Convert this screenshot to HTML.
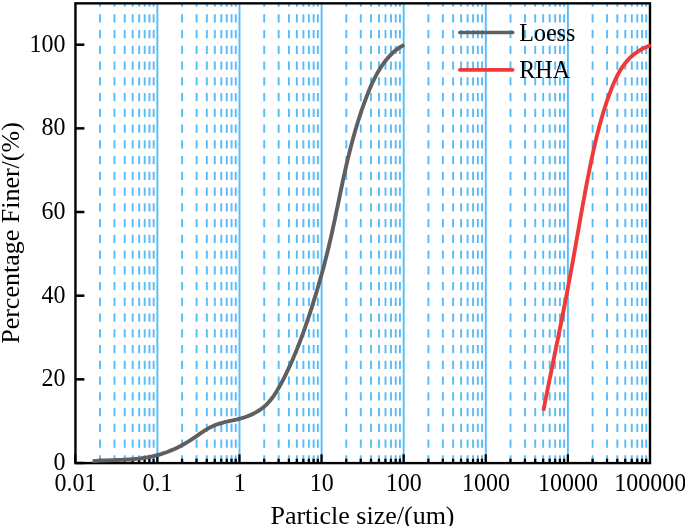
<!DOCTYPE html><html><head><meta charset="utf-8"><style>html,body{margin:0;padding:0;background:#fff;width:685px;height:526px;overflow:hidden}svg{display:block;will-change:transform}text{font-family:"Liberation Serif",serif;font-size:24px;fill:#000}</style></head><body>
<svg width="685" height="526" viewBox="0 0 685 526">
<line x1="100.01" y1="463.10" x2="100.01" y2="3.35" stroke="#58bcfa" stroke-width="1.9" stroke-dasharray="8.3 7.45" stroke-dashoffset="0.5"/>
<line x1="114.47" y1="463.10" x2="114.47" y2="3.35" stroke="#58bcfa" stroke-width="1.9" stroke-dasharray="8.3 7.45" stroke-dashoffset="0.5"/>
<line x1="124.73" y1="463.10" x2="124.73" y2="3.35" stroke="#58bcfa" stroke-width="1.9" stroke-dasharray="8.3 7.45" stroke-dashoffset="0.5"/>
<line x1="132.69" y1="463.10" x2="132.69" y2="3.35" stroke="#58bcfa" stroke-width="1.9" stroke-dasharray="8.3 7.45" stroke-dashoffset="0.5"/>
<line x1="139.19" y1="463.10" x2="139.19" y2="3.35" stroke="#58bcfa" stroke-width="1.9" stroke-dasharray="8.3 7.45" stroke-dashoffset="0.5"/>
<line x1="144.68" y1="463.10" x2="144.68" y2="3.35" stroke="#58bcfa" stroke-width="1.9" stroke-dasharray="8.3 7.45" stroke-dashoffset="0.5"/>
<line x1="149.44" y1="463.10" x2="149.44" y2="3.35" stroke="#58bcfa" stroke-width="1.9" stroke-dasharray="8.3 7.45" stroke-dashoffset="0.5"/>
<line x1="153.64" y1="463.10" x2="153.64" y2="3.35" stroke="#58bcfa" stroke-width="1.9" stroke-dasharray="8.3 7.45" stroke-dashoffset="0.5"/>
<line x1="157.40" y1="463.10" x2="157.40" y2="3.35" stroke="#58bcfa" stroke-width="1.9"/>
<line x1="182.11" y1="463.10" x2="182.11" y2="3.35" stroke="#58bcfa" stroke-width="1.9" stroke-dasharray="8.3 7.45" stroke-dashoffset="0.5"/>
<line x1="196.57" y1="463.10" x2="196.57" y2="3.35" stroke="#58bcfa" stroke-width="1.9" stroke-dasharray="8.3 7.45" stroke-dashoffset="0.5"/>
<line x1="206.83" y1="463.10" x2="206.83" y2="3.35" stroke="#58bcfa" stroke-width="1.9" stroke-dasharray="8.3 7.45" stroke-dashoffset="0.5"/>
<line x1="214.79" y1="463.10" x2="214.79" y2="3.35" stroke="#58bcfa" stroke-width="1.9" stroke-dasharray="8.3 7.45" stroke-dashoffset="0.5"/>
<line x1="221.29" y1="463.10" x2="221.29" y2="3.35" stroke="#58bcfa" stroke-width="1.9" stroke-dasharray="8.3 7.45" stroke-dashoffset="0.5"/>
<line x1="226.78" y1="463.10" x2="226.78" y2="3.35" stroke="#58bcfa" stroke-width="1.9" stroke-dasharray="8.3 7.45" stroke-dashoffset="0.5"/>
<line x1="231.54" y1="463.10" x2="231.54" y2="3.35" stroke="#58bcfa" stroke-width="1.9" stroke-dasharray="8.3 7.45" stroke-dashoffset="0.5"/>
<line x1="235.74" y1="463.10" x2="235.74" y2="3.35" stroke="#58bcfa" stroke-width="1.9" stroke-dasharray="8.3 7.45" stroke-dashoffset="0.5"/>
<line x1="239.50" y1="463.10" x2="239.50" y2="3.35" stroke="#58bcfa" stroke-width="1.9"/>
<line x1="264.21" y1="463.10" x2="264.21" y2="3.35" stroke="#58bcfa" stroke-width="1.9" stroke-dasharray="8.3 7.45" stroke-dashoffset="0.5"/>
<line x1="278.67" y1="463.10" x2="278.67" y2="3.35" stroke="#58bcfa" stroke-width="1.9" stroke-dasharray="8.3 7.45" stroke-dashoffset="0.5"/>
<line x1="288.93" y1="463.10" x2="288.93" y2="3.35" stroke="#58bcfa" stroke-width="1.9" stroke-dasharray="8.3 7.45" stroke-dashoffset="0.5"/>
<line x1="296.89" y1="463.10" x2="296.89" y2="3.35" stroke="#58bcfa" stroke-width="1.9" stroke-dasharray="8.3 7.45" stroke-dashoffset="0.5"/>
<line x1="303.39" y1="463.10" x2="303.39" y2="3.35" stroke="#58bcfa" stroke-width="1.9" stroke-dasharray="8.3 7.45" stroke-dashoffset="0.5"/>
<line x1="308.88" y1="463.10" x2="308.88" y2="3.35" stroke="#58bcfa" stroke-width="1.9" stroke-dasharray="8.3 7.45" stroke-dashoffset="0.5"/>
<line x1="313.64" y1="463.10" x2="313.64" y2="3.35" stroke="#58bcfa" stroke-width="1.9" stroke-dasharray="8.3 7.45" stroke-dashoffset="0.5"/>
<line x1="317.84" y1="463.10" x2="317.84" y2="3.35" stroke="#58bcfa" stroke-width="1.9" stroke-dasharray="8.3 7.45" stroke-dashoffset="0.5"/>
<line x1="321.60" y1="463.10" x2="321.60" y2="3.35" stroke="#58bcfa" stroke-width="1.9"/>
<line x1="346.31" y1="463.10" x2="346.31" y2="3.35" stroke="#58bcfa" stroke-width="1.9" stroke-dasharray="8.3 7.45" stroke-dashoffset="0.5"/>
<line x1="360.77" y1="463.10" x2="360.77" y2="3.35" stroke="#58bcfa" stroke-width="1.9" stroke-dasharray="8.3 7.45" stroke-dashoffset="0.5"/>
<line x1="371.03" y1="463.10" x2="371.03" y2="3.35" stroke="#58bcfa" stroke-width="1.9" stroke-dasharray="8.3 7.45" stroke-dashoffset="0.5"/>
<line x1="378.99" y1="463.10" x2="378.99" y2="3.35" stroke="#58bcfa" stroke-width="1.9" stroke-dasharray="8.3 7.45" stroke-dashoffset="0.5"/>
<line x1="385.49" y1="463.10" x2="385.49" y2="3.35" stroke="#58bcfa" stroke-width="1.9" stroke-dasharray="8.3 7.45" stroke-dashoffset="0.5"/>
<line x1="390.98" y1="463.10" x2="390.98" y2="3.35" stroke="#58bcfa" stroke-width="1.9" stroke-dasharray="8.3 7.45" stroke-dashoffset="0.5"/>
<line x1="395.74" y1="463.10" x2="395.74" y2="3.35" stroke="#58bcfa" stroke-width="1.9" stroke-dasharray="8.3 7.45" stroke-dashoffset="0.5"/>
<line x1="399.94" y1="463.10" x2="399.94" y2="3.35" stroke="#58bcfa" stroke-width="1.9" stroke-dasharray="8.3 7.45" stroke-dashoffset="0.5"/>
<line x1="403.70" y1="463.10" x2="403.70" y2="3.35" stroke="#58bcfa" stroke-width="1.9"/>
<line x1="428.41" y1="463.10" x2="428.41" y2="3.35" stroke="#58bcfa" stroke-width="1.9" stroke-dasharray="8.3 7.45" stroke-dashoffset="0.5"/>
<line x1="442.87" y1="463.10" x2="442.87" y2="3.35" stroke="#58bcfa" stroke-width="1.9" stroke-dasharray="8.3 7.45" stroke-dashoffset="0.5"/>
<line x1="453.13" y1="463.10" x2="453.13" y2="3.35" stroke="#58bcfa" stroke-width="1.9" stroke-dasharray="8.3 7.45" stroke-dashoffset="0.5"/>
<line x1="461.09" y1="463.10" x2="461.09" y2="3.35" stroke="#58bcfa" stroke-width="1.9" stroke-dasharray="8.3 7.45" stroke-dashoffset="0.5"/>
<line x1="467.59" y1="463.10" x2="467.59" y2="3.35" stroke="#58bcfa" stroke-width="1.9" stroke-dasharray="8.3 7.45" stroke-dashoffset="0.5"/>
<line x1="473.08" y1="463.10" x2="473.08" y2="3.35" stroke="#58bcfa" stroke-width="1.9" stroke-dasharray="8.3 7.45" stroke-dashoffset="0.5"/>
<line x1="477.84" y1="463.10" x2="477.84" y2="3.35" stroke="#58bcfa" stroke-width="1.9" stroke-dasharray="8.3 7.45" stroke-dashoffset="0.5"/>
<line x1="482.04" y1="463.10" x2="482.04" y2="3.35" stroke="#58bcfa" stroke-width="1.9" stroke-dasharray="8.3 7.45" stroke-dashoffset="0.5"/>
<line x1="485.80" y1="463.10" x2="485.80" y2="3.35" stroke="#58bcfa" stroke-width="1.9"/>
<line x1="510.51" y1="463.10" x2="510.51" y2="3.35" stroke="#58bcfa" stroke-width="1.9" stroke-dasharray="8.3 7.45" stroke-dashoffset="0.5"/>
<line x1="524.97" y1="463.10" x2="524.97" y2="3.35" stroke="#58bcfa" stroke-width="1.9" stroke-dasharray="8.3 7.45" stroke-dashoffset="0.5"/>
<line x1="535.23" y1="463.10" x2="535.23" y2="3.35" stroke="#58bcfa" stroke-width="1.9" stroke-dasharray="8.3 7.45" stroke-dashoffset="0.5"/>
<line x1="543.19" y1="463.10" x2="543.19" y2="3.35" stroke="#58bcfa" stroke-width="1.9" stroke-dasharray="8.3 7.45" stroke-dashoffset="0.5"/>
<line x1="549.69" y1="463.10" x2="549.69" y2="3.35" stroke="#58bcfa" stroke-width="1.9" stroke-dasharray="8.3 7.45" stroke-dashoffset="0.5"/>
<line x1="555.18" y1="463.10" x2="555.18" y2="3.35" stroke="#58bcfa" stroke-width="1.9" stroke-dasharray="8.3 7.45" stroke-dashoffset="0.5"/>
<line x1="559.94" y1="463.10" x2="559.94" y2="3.35" stroke="#58bcfa" stroke-width="1.9" stroke-dasharray="8.3 7.45" stroke-dashoffset="0.5"/>
<line x1="564.14" y1="463.10" x2="564.14" y2="3.35" stroke="#58bcfa" stroke-width="1.9" stroke-dasharray="8.3 7.45" stroke-dashoffset="0.5"/>
<line x1="567.90" y1="463.10" x2="567.90" y2="3.35" stroke="#58bcfa" stroke-width="1.9"/>
<line x1="592.61" y1="463.10" x2="592.61" y2="3.35" stroke="#58bcfa" stroke-width="1.9" stroke-dasharray="8.3 7.45" stroke-dashoffset="0.5"/>
<line x1="607.07" y1="463.10" x2="607.07" y2="3.35" stroke="#58bcfa" stroke-width="1.9" stroke-dasharray="8.3 7.45" stroke-dashoffset="0.5"/>
<line x1="617.33" y1="463.10" x2="617.33" y2="3.35" stroke="#58bcfa" stroke-width="1.9" stroke-dasharray="8.3 7.45" stroke-dashoffset="0.5"/>
<line x1="625.29" y1="463.10" x2="625.29" y2="3.35" stroke="#58bcfa" stroke-width="1.9" stroke-dasharray="8.3 7.45" stroke-dashoffset="0.5"/>
<line x1="631.79" y1="463.10" x2="631.79" y2="3.35" stroke="#58bcfa" stroke-width="1.9" stroke-dasharray="8.3 7.45" stroke-dashoffset="0.5"/>
<line x1="637.28" y1="463.10" x2="637.28" y2="3.35" stroke="#58bcfa" stroke-width="1.9" stroke-dasharray="8.3 7.45" stroke-dashoffset="0.5"/>
<line x1="642.04" y1="463.10" x2="642.04" y2="3.35" stroke="#58bcfa" stroke-width="1.9" stroke-dasharray="8.3 7.45" stroke-dashoffset="0.5"/>
<line x1="646.24" y1="463.10" x2="646.24" y2="3.35" stroke="#58bcfa" stroke-width="1.9" stroke-dasharray="8.3 7.45" stroke-dashoffset="0.5"/>
<rect x="75.45" y="3.35" width="574.55" height="459.75" fill="none" stroke="#000" stroke-width="2.4"/>
<line x1="75.25" y1="463.10" x2="75.25" y2="454.30" stroke="#000" stroke-width="2.3"/>
<line x1="99.96" y1="463.10" x2="99.96" y2="458.70" stroke="#000" stroke-width="2.3"/>
<line x1="114.42" y1="463.10" x2="114.42" y2="458.70" stroke="#000" stroke-width="2.3"/>
<line x1="124.68" y1="463.10" x2="124.68" y2="458.70" stroke="#000" stroke-width="2.3"/>
<line x1="132.64" y1="463.10" x2="132.64" y2="458.70" stroke="#000" stroke-width="2.3"/>
<line x1="139.14" y1="463.10" x2="139.14" y2="458.70" stroke="#000" stroke-width="2.3"/>
<line x1="144.63" y1="463.10" x2="144.63" y2="458.70" stroke="#000" stroke-width="2.3"/>
<line x1="149.39" y1="463.10" x2="149.39" y2="458.70" stroke="#000" stroke-width="2.3"/>
<line x1="153.59" y1="463.10" x2="153.59" y2="458.70" stroke="#000" stroke-width="2.3"/>
<line x1="157.35" y1="463.10" x2="157.35" y2="454.30" stroke="#000" stroke-width="2.3"/>
<line x1="182.06" y1="463.10" x2="182.06" y2="458.70" stroke="#000" stroke-width="2.3"/>
<line x1="196.52" y1="463.10" x2="196.52" y2="458.70" stroke="#000" stroke-width="2.3"/>
<line x1="206.78" y1="463.10" x2="206.78" y2="458.70" stroke="#000" stroke-width="2.3"/>
<line x1="214.74" y1="463.10" x2="214.74" y2="458.70" stroke="#000" stroke-width="2.3"/>
<line x1="221.24" y1="463.10" x2="221.24" y2="458.70" stroke="#000" stroke-width="2.3"/>
<line x1="226.73" y1="463.10" x2="226.73" y2="458.70" stroke="#000" stroke-width="2.3"/>
<line x1="231.49" y1="463.10" x2="231.49" y2="458.70" stroke="#000" stroke-width="2.3"/>
<line x1="235.69" y1="463.10" x2="235.69" y2="458.70" stroke="#000" stroke-width="2.3"/>
<line x1="239.45" y1="463.10" x2="239.45" y2="454.30" stroke="#000" stroke-width="2.3"/>
<line x1="264.16" y1="463.10" x2="264.16" y2="458.70" stroke="#000" stroke-width="2.3"/>
<line x1="278.62" y1="463.10" x2="278.62" y2="458.70" stroke="#000" stroke-width="2.3"/>
<line x1="288.88" y1="463.10" x2="288.88" y2="458.70" stroke="#000" stroke-width="2.3"/>
<line x1="296.84" y1="463.10" x2="296.84" y2="458.70" stroke="#000" stroke-width="2.3"/>
<line x1="303.34" y1="463.10" x2="303.34" y2="458.70" stroke="#000" stroke-width="2.3"/>
<line x1="308.83" y1="463.10" x2="308.83" y2="458.70" stroke="#000" stroke-width="2.3"/>
<line x1="313.59" y1="463.10" x2="313.59" y2="458.70" stroke="#000" stroke-width="2.3"/>
<line x1="317.79" y1="463.10" x2="317.79" y2="458.70" stroke="#000" stroke-width="2.3"/>
<line x1="321.55" y1="463.10" x2="321.55" y2="454.30" stroke="#000" stroke-width="2.3"/>
<line x1="346.26" y1="463.10" x2="346.26" y2="458.70" stroke="#000" stroke-width="2.3"/>
<line x1="360.72" y1="463.10" x2="360.72" y2="458.70" stroke="#000" stroke-width="2.3"/>
<line x1="370.98" y1="463.10" x2="370.98" y2="458.70" stroke="#000" stroke-width="2.3"/>
<line x1="378.94" y1="463.10" x2="378.94" y2="458.70" stroke="#000" stroke-width="2.3"/>
<line x1="385.44" y1="463.10" x2="385.44" y2="458.70" stroke="#000" stroke-width="2.3"/>
<line x1="390.93" y1="463.10" x2="390.93" y2="458.70" stroke="#000" stroke-width="2.3"/>
<line x1="395.69" y1="463.10" x2="395.69" y2="458.70" stroke="#000" stroke-width="2.3"/>
<line x1="399.89" y1="463.10" x2="399.89" y2="458.70" stroke="#000" stroke-width="2.3"/>
<line x1="403.65" y1="463.10" x2="403.65" y2="454.30" stroke="#000" stroke-width="2.3"/>
<line x1="428.36" y1="463.10" x2="428.36" y2="458.70" stroke="#000" stroke-width="2.3"/>
<line x1="442.82" y1="463.10" x2="442.82" y2="458.70" stroke="#000" stroke-width="2.3"/>
<line x1="453.08" y1="463.10" x2="453.08" y2="458.70" stroke="#000" stroke-width="2.3"/>
<line x1="461.04" y1="463.10" x2="461.04" y2="458.70" stroke="#000" stroke-width="2.3"/>
<line x1="467.54" y1="463.10" x2="467.54" y2="458.70" stroke="#000" stroke-width="2.3"/>
<line x1="473.03" y1="463.10" x2="473.03" y2="458.70" stroke="#000" stroke-width="2.3"/>
<line x1="477.79" y1="463.10" x2="477.79" y2="458.70" stroke="#000" stroke-width="2.3"/>
<line x1="481.99" y1="463.10" x2="481.99" y2="458.70" stroke="#000" stroke-width="2.3"/>
<line x1="485.75" y1="463.10" x2="485.75" y2="454.30" stroke="#000" stroke-width="2.3"/>
<line x1="510.46" y1="463.10" x2="510.46" y2="458.70" stroke="#000" stroke-width="2.3"/>
<line x1="524.92" y1="463.10" x2="524.92" y2="458.70" stroke="#000" stroke-width="2.3"/>
<line x1="535.18" y1="463.10" x2="535.18" y2="458.70" stroke="#000" stroke-width="2.3"/>
<line x1="543.14" y1="463.10" x2="543.14" y2="458.70" stroke="#000" stroke-width="2.3"/>
<line x1="549.64" y1="463.10" x2="549.64" y2="458.70" stroke="#000" stroke-width="2.3"/>
<line x1="555.13" y1="463.10" x2="555.13" y2="458.70" stroke="#000" stroke-width="2.3"/>
<line x1="559.89" y1="463.10" x2="559.89" y2="458.70" stroke="#000" stroke-width="2.3"/>
<line x1="564.09" y1="463.10" x2="564.09" y2="458.70" stroke="#000" stroke-width="2.3"/>
<line x1="567.85" y1="463.10" x2="567.85" y2="454.30" stroke="#000" stroke-width="2.3"/>
<line x1="592.56" y1="463.10" x2="592.56" y2="458.70" stroke="#000" stroke-width="2.3"/>
<line x1="607.02" y1="463.10" x2="607.02" y2="458.70" stroke="#000" stroke-width="2.3"/>
<line x1="617.28" y1="463.10" x2="617.28" y2="458.70" stroke="#000" stroke-width="2.3"/>
<line x1="625.24" y1="463.10" x2="625.24" y2="458.70" stroke="#000" stroke-width="2.3"/>
<line x1="631.74" y1="463.10" x2="631.74" y2="458.70" stroke="#000" stroke-width="2.3"/>
<line x1="637.23" y1="463.10" x2="637.23" y2="458.70" stroke="#000" stroke-width="2.3"/>
<line x1="641.99" y1="463.10" x2="641.99" y2="458.70" stroke="#000" stroke-width="2.3"/>
<line x1="646.19" y1="463.10" x2="646.19" y2="458.70" stroke="#000" stroke-width="2.3"/>
<line x1="75.45" y1="463.00" x2="84.4" y2="463.00" stroke="#000" stroke-width="2.5"/>
<line x1="75.45" y1="379.34" x2="84.4" y2="379.34" stroke="#000" stroke-width="2.5"/>
<line x1="75.45" y1="295.68" x2="84.4" y2="295.68" stroke="#000" stroke-width="2.5"/>
<line x1="75.45" y1="212.02" x2="84.4" y2="212.02" stroke="#000" stroke-width="2.5"/>
<line x1="75.45" y1="128.36" x2="84.4" y2="128.36" stroke="#000" stroke-width="2.5"/>
<line x1="75.45" y1="44.70" x2="84.4" y2="44.70" stroke="#000" stroke-width="2.5"/>
<path d="M92.50 461.10 L96.14 460.85 L99.78 460.64 L103.43 460.47 L107.09 460.33 L110.75 460.21 L114.40 460.09 L118.06 459.97 L121.71 459.83 L125.35 459.66 L128.99 459.45 L132.61 459.20 L136.22 458.88 L139.82 458.49 L143.40 458.02 L146.96 457.45 L150.50 456.78 L154.01 455.99 L157.50 455.10 L160.96 454.09 L164.39 452.97 L167.79 451.73 L171.16 450.40 L174.49 448.95 L177.78 447.40 L181.03 445.75 L184.23 443.99 L187.39 442.13 L190.51 440.18 L193.58 438.13 L196.63 436.04 L199.66 433.95 L202.71 431.90 L205.78 429.93 L208.90 428.10 L212.09 426.44 L215.35 425.00 L218.71 423.80 L222.15 422.81 L225.66 421.95 L229.20 421.17 L232.76 420.42 L236.33 419.63 L239.88 418.75 L243.40 417.72 L246.86 416.52 L250.24 415.16 L253.53 413.62 L256.71 411.90 L259.76 409.99 L262.65 407.89 L265.37 405.58 L267.92 403.07 L270.29 400.38 L272.51 397.53 L274.60 394.55 L276.58 391.46 L278.46 388.29 L280.26 385.07 L282.01 381.82 L283.71 378.55 L285.36 375.27 L286.97 371.98 L288.54 368.68 L290.07 365.36 L291.57 362.04 L293.03 358.71 L294.45 355.36 L295.84 352.01 L297.21 348.64 L298.54 345.27 L299.84 341.89 L301.12 338.50 L302.37 335.09 L303.60 331.69 L304.81 328.27 L306.00 324.84 L307.17 321.41 L308.33 317.97 L309.47 314.52 L310.59 311.07 L311.70 307.61 L312.80 304.14 L313.89 300.67 L314.96 297.19 L316.02 293.71 L317.06 290.22 L318.09 286.72 L319.10 283.22 L320.10 279.71 L321.08 276.20 L322.05 272.69 L323.01 269.17 L323.95 265.65 L324.87 262.12 L325.78 258.59 L326.68 255.06 L327.55 251.52 L328.42 247.98 L329.26 244.44 L330.10 240.89 L330.91 237.34 L331.71 233.79 L332.50 230.24 L333.27 226.69 L334.04 223.13 L334.80 219.58 L335.55 216.02 L336.29 212.46 L337.03 208.91 L337.77 205.35 L338.50 201.79 L339.24 198.23 L339.97 194.67 L340.72 191.11 L341.46 187.56 L342.21 184.00 L342.97 180.44 L343.74 176.89 L344.53 173.34 L345.32 169.79 L346.13 166.24 L346.95 162.69 L347.78 159.15 L348.64 155.61 L349.51 152.08 L350.40 148.55 L351.31 145.02 L352.24 141.51 L353.19 137.99 L354.17 134.49 L355.17 130.99 L356.19 127.49 L357.24 124.01 L358.32 120.53 L359.42 117.07 L360.56 113.61 L361.72 110.16 L362.91 106.73 L364.13 103.30 L365.38 99.89 L366.67 96.48 L367.99 93.09 L369.35 89.73 L370.77 86.38 L372.25 83.07 L373.81 79.79 L375.45 76.56 L377.19 73.37 L379.03 70.23 L380.97 67.16 L383.02 64.15 L385.19 61.21 L387.48 58.36 L389.91 55.62 L392.47 53.03 L395.18 50.64 L398.05 48.47 L401.09 46.58 L404.30 45.00" fill="none" stroke="#5f5f5f" stroke-width="3.90" stroke-linecap="butt" stroke-linejoin="round"/>
<path d="M543.40 410.60 L544.02 407.39 L544.66 404.17 L545.29 400.96 L545.93 397.74 L546.57 394.53 L547.21 391.32 L547.86 388.10 L548.50 384.89 L549.15 381.67 L549.80 378.46 L550.45 375.24 L551.10 372.02 L551.76 368.81 L552.41 365.59 L553.07 362.38 L553.72 359.16 L554.38 355.94 L555.03 352.72 L555.68 349.51 L556.34 346.29 L556.99 343.07 L557.65 339.85 L558.30 336.64 L558.95 333.42 L559.60 330.20 L560.24 326.98 L560.89 323.76 L561.53 320.54 L562.18 317.32 L562.82 314.10 L563.45 310.88 L564.09 307.66 L564.72 304.44 L565.35 301.22 L565.97 298.00 L566.59 294.78 L567.21 291.56 L567.82 288.34 L568.43 285.12 L569.04 281.90 L569.64 278.67 L570.24 275.45 L570.83 272.23 L571.42 269.01 L572.00 265.79 L572.58 262.56 L573.16 259.34 L573.73 256.12 L574.30 252.89 L574.88 249.67 L575.44 246.45 L576.01 243.22 L576.58 240.00 L577.15 236.78 L577.71 233.55 L578.28 230.33 L578.85 227.10 L579.41 223.88 L579.98 220.65 L580.55 217.43 L581.13 214.21 L581.70 210.98 L582.28 207.76 L582.86 204.53 L583.45 201.30 L584.04 198.08 L584.63 194.85 L585.23 191.63 L585.83 188.40 L586.44 185.18 L587.06 181.95 L587.68 178.72 L588.31 175.50 L588.94 172.27 L589.58 169.04 L590.23 165.82 L590.89 162.59 L591.56 159.37 L592.24 156.15 L592.94 152.93 L593.64 149.71 L594.36 146.50 L595.10 143.29 L595.86 140.09 L596.63 136.89 L597.42 133.70 L598.23 130.51 L599.07 127.33 L599.92 124.16 L600.80 120.99 L601.70 117.83 L602.62 114.68 L603.58 111.54 L604.56 108.42 L605.57 105.30 L606.60 102.19 L607.67 99.09 L608.77 96.00 L609.90 92.93 L611.07 89.87 L612.27 86.82 L613.52 83.80 L614.82 80.81 L616.19 77.86 L617.64 74.96 L619.18 72.13 L620.82 69.37 L622.58 66.68 L624.46 64.09 L626.47 61.60 L628.62 59.22 L630.93 56.96 L633.38 54.83 L635.96 52.84 L638.68 50.99 L641.53 49.31 L644.51 47.79 L647.60 46.45 L650.80 45.29" fill="none" stroke="#ee3a3a" stroke-width="3.90" stroke-linecap="butt" stroke-linejoin="round"/>
<text transform="translate(65.6,470.10) scale(1,1.08)" text-anchor="end">0</text>
<text transform="translate(65.6,386.44) scale(1,1.08)" text-anchor="end">20</text>
<text transform="translate(65.6,302.78) scale(1,1.08)" text-anchor="end">40</text>
<text transform="translate(65.6,219.12) scale(1,1.08)" text-anchor="end">60</text>
<text transform="translate(65.6,135.46) scale(1,1.08)" text-anchor="end">80</text>
<text transform="translate(65.6,51.80) scale(1,1.08)" text-anchor="end">100</text>
<text transform="translate(75.45,491) scale(1,1.08)" text-anchor="middle">0.01</text>
<text transform="translate(157.55,491) scale(1,1.08)" text-anchor="middle">0.1</text>
<text transform="translate(239.65,491) scale(1,1.08)" text-anchor="middle">1</text>
<text transform="translate(321.75,491) scale(1,1.08)" text-anchor="middle">10</text>
<text transform="translate(403.85,491) scale(1,1.08)" text-anchor="middle">100</text>
<text transform="translate(485.95,491) scale(1,1.08)" text-anchor="middle">1000</text>
<text transform="translate(568.05,491) scale(1,1.08)" text-anchor="middle">10000</text>
<text transform="translate(650.15,491) scale(1,1.08)" text-anchor="middle">100000</text>
<text x="362.5" y="523.5" text-anchor="middle" style="font-size:26px">Particle size/(um)</text>
<text transform="translate(18.8,233) rotate(-90)" text-anchor="middle" style="font-size:26px">Percentage Finer/(%)</text>
<line x1="459.8" y1="32.5" x2="512.7" y2="32.5" stroke="#5f5f5f" stroke-width="3.6" stroke-linecap="round"/>
<line x1="459.8" y1="69.9" x2="512.7" y2="69.9" stroke="#ee3a3a" stroke-width="3.6" stroke-linecap="round"/>
<text transform="translate(519.3,40.8) scale(1,1.07)">Loess</text>
<text transform="translate(519.3,77.8) scale(1,1.07)">RHA</text>
</svg></body></html>
